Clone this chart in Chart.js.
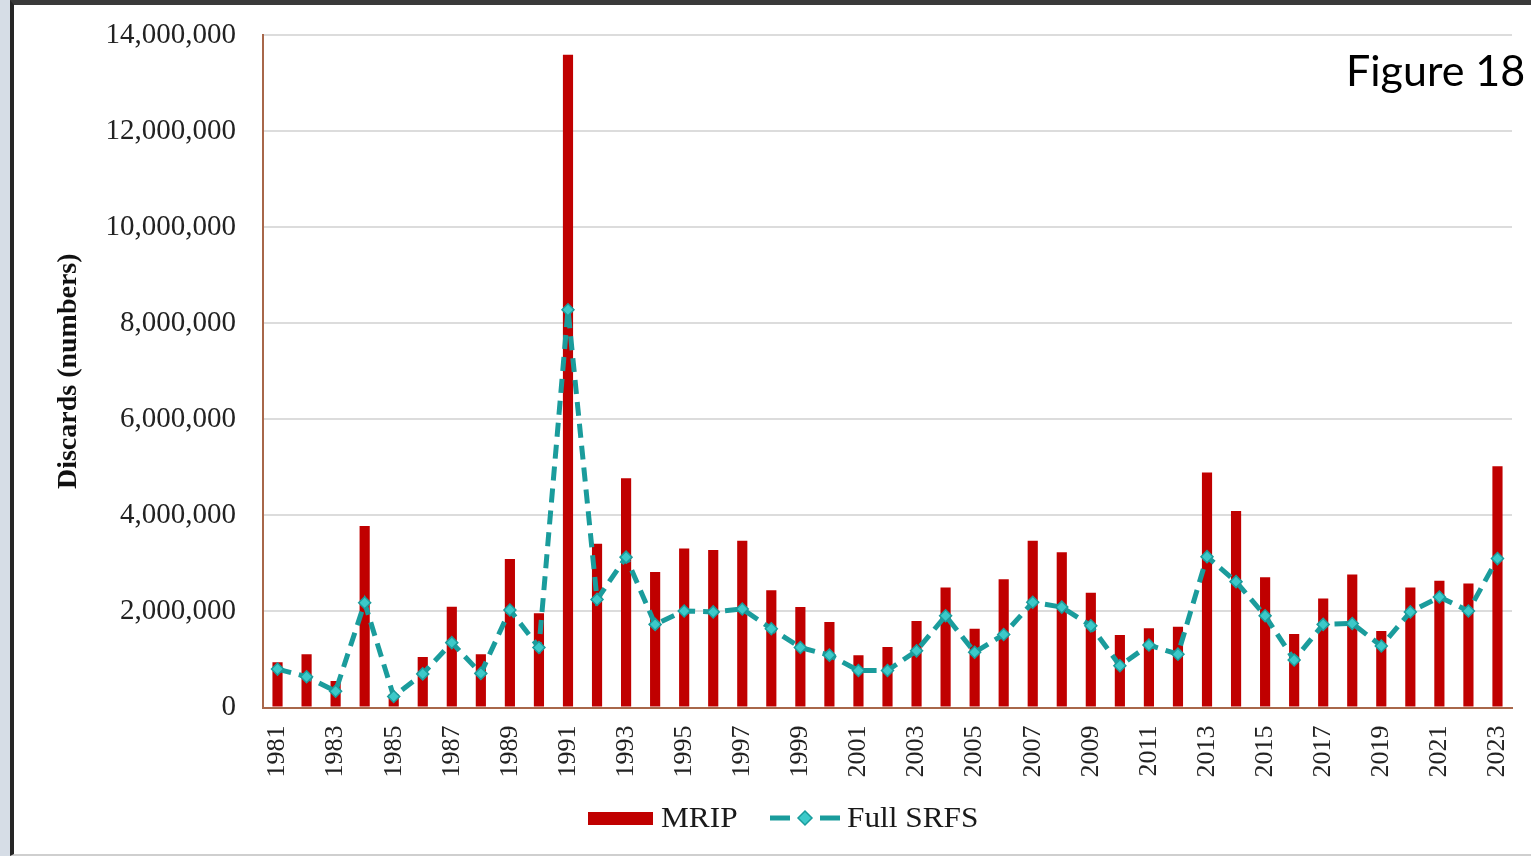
<!DOCTYPE html>
<html>
<head>
<meta charset="utf-8">
<script src="https://cdn.jsdelivr.net/npm/chart.js@4.4.1/dist/chart.umd.min.js"></script>
<style>
  html, body { margin: 0; padding: 0; }
  body { width: 1531px; height: 856px; background: #d6dde6; position: relative; overflow: hidden; }
  #frame { position: absolute; left: 10px; top: 0; width: 1517px; height: 849px;
           background: #fff; border-left: 4px solid #262626; border-top: 5px solid #3a3a3a;
           border-bottom: 2px solid #cfcfcf; }
  #wrap { position: absolute; left: 0; top: 0; width: 1517px; height: 847px; }
  #fig { position: absolute; left: 1332px; top: 43px; font-family: Lato, "Open Sans", sans-serif;
         font-size: 43px; color: #000; line-height: 1; white-space: nowrap; }
</style>
</head>
<body>
<div id="frame">
  <div id="wrap"><canvas id="c" width="1517" height="847"></canvas></div>
  <div id="fig">Figure 18</div>
</div>
<script>
const years = ["1981","1982","1983","1984","1985","1986","1987","1988","1989","1990",
  "1991","1992","1993","1994","1995","1996","1997","1998","1999","2000",
  "2001","2002","2003","2004","2005","2006","2007","2008","2009","2010",
  "2011","2012","2013","2014","2015","2016","2017","2018","2019","2020",
  "2021","2022","2023"];
const mrip = [940000,1110000,550000,3780000,270000,1050000,2100000,1110000,3090000,1960000,
  13590000,3410000,4770000,2820000,3310000,3280000,3470000,2440000,2090000,1780000,
  1090000,1260000,1800000,2500000,1640000,2670000,3470000,3230000,2390000,1510000,
  1650000,1680000,4890000,4090000,2710000,1530000,2270000,2770000,1590000,2500000,
  2640000,2580000,5020000];
const fullSrfs = [800000,640000,340000,2180000,230000,700000,1350000,710000,2030000,1250000,
  8280000,2250000,3130000,1730000,2010000,1990000,2050000,1640000,1250000,1090000,
  770000,770000,1180000,1910000,1150000,1520000,2190000,2090000,1700000,870000,
  1300000,1110000,3140000,2620000,1910000,990000,1730000,1750000,1280000,1990000,
  2300000,2010000,3100000];
const yTicks = [0,2000000,4000000,6000000,8000000,10000000,12000000,14000000];
const seriesNames = ["MRIP","Full SRFS"];

const SERIF = '"Liberation Serif", "Times New Roman", serif';
const RED = '#c00000';
const TEAL = '#1a9c9c';
const TEAL_FILL = '#3cc9c9';
const AXIS = '#a8674a';

const legendPlugin = {
  id: 'customLegend',
  afterDraw(chart) {
    const ctx = chart.ctx;
    ctx.save();
    const y = 813;
    ctx.fillStyle = RED;
    ctx.fillRect(574, 807, 65, 13);
    ctx.fillStyle = '#1a1a1a';
    ctx.font = '29px ' + SERIF;
    ctx.textBaseline = 'middle';
    ctx.textAlign = 'left';
    ctx.save();
    ctx.translate(647, y + 1); ctx.scale(1.08, 1);
    ctx.fillText(seriesNames[0], 0, 0);
    ctx.restore();
    ctx.strokeStyle = TEAL;
    ctx.lineWidth = 5;
    ctx.lineCap = 'butt';
    ctx.beginPath();
    ctx.moveTo(756, y); ctx.lineTo(776, y);
    ctx.moveTo(806, y); ctx.lineTo(826, y);
    ctx.stroke();
    ctx.fillStyle = TEAL_FILL;
    ctx.strokeStyle = TEAL;
    ctx.lineWidth = 1.5;
    ctx.beginPath();
    ctx.moveTo(791, y - 7); ctx.lineTo(798, y); ctx.lineTo(791, y + 7); ctx.lineTo(784, y); ctx.closePath();
    ctx.fill(); ctx.stroke();
    ctx.fillStyle = '#1a1a1a';
    ctx.save();
    ctx.translate(833, y + 1); ctx.scale(1.08, 1);
    ctx.fillText(seriesNames[1], 0, 0);
    ctx.restore();
    ctx.restore();
  }
};

new Chart(document.getElementById('c'), {
  data: {
    labels: years,
    datasets: [
      {
        type: 'line', label: seriesNames[1], data: fullSrfs, order: 0,
        borderColor: TEAL, borderWidth: 5, borderDash: [14, 8], tension: 0,
        pointStyle: 'rectRot', pointRadius: 6, pointBackgroundColor: TEAL_FILL,
        pointBorderColor: TEAL, pointBorderWidth: 1.5, fill: false
      },
      {
        type: 'bar', label: seriesNames[0], data: mrip, order: 1,
        backgroundColor: RED, borderWidth: 0,
        barPercentage: 0.35, categoryPercentage: 1.0
      }
    ]
  },
  options: {
    responsive: false,
    animation: false,
    layout: { padding: { left: 0, right: 19, top: 30, bottom: 0 } },
    plugins: { legend: { display: false }, tooltip: { enabled: false } },
    scales: {
      x: {
        type: 'category', offset: true,
        grid: { display: false, drawTicks: false },
        border: { color: AXIS, width: 2 },
        ticks: {
          autoSkip: false, maxRotation: 90, minRotation: 90, padding: 18,
          color: '#222', font: { family: SERIF, size: 26 },
          callback: function(v, i) { return i % 2 === 0 ? years[i] : ''; }
        },
        afterFit(scale) { scale.height = 144.5; scale.paddingLeft = 0; scale.paddingRight = 0; }
      },
      y: {
        min: 0, max: 14000000,
        afterBuildTicks(scale) { scale.ticks = yTicks.map(v => ({ value: v })); },
        grid: { color: '#dcdcdc', lineWidth: 2, drawTicks: false },
        border: { color: AXIS, width: 2 },
        ticks: {
          padding: 27, color: '#222', font: { family: SERIF, size: 29 },
          callback: v => Number(v).toLocaleString('en-US')
        },
        title: {
          display: true, text: 'Discards (numbers)', color: '#111',
          font: { family: SERIF, size: 28, weight: 'bold' },
          padding: { top: 38, bottom: 0 }
        },
        afterFit(scale) { scale.width = 249; scale.paddingTop = 0; scale.paddingBottom = 0; }
      }
    }
  },
  plugins: [legendPlugin]
});
</script>
</body>
</html>
